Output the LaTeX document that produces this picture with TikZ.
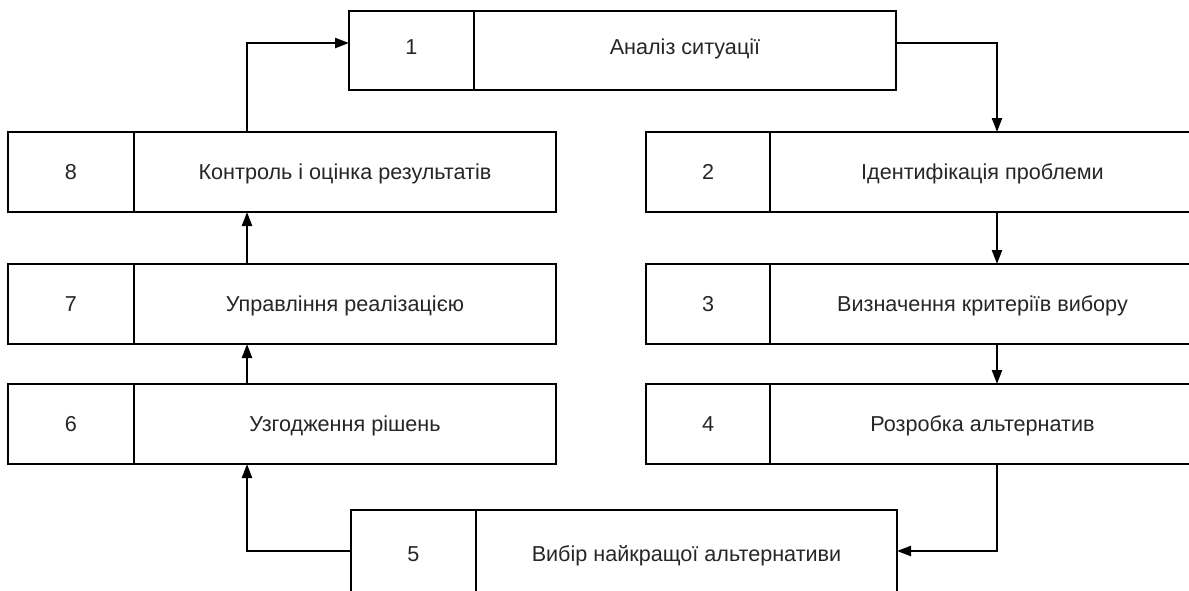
\documentclass[tikz,border=0pt]{standalone}
\usepackage{fontspec}
\setmainfont{Liberation Sans}
\usetikzlibrary{arrows.meta}
\begin{document}
\begin{tikzpicture}[x=1pt,y=-1pt,
  cell/.style={draw=black, line width=2.3pt, inner sep=0pt, outer sep=0pt,
    text=black!85, font=\fontsize{21.6}{26}\selectfont, text height=15.5pt, text depth=0pt},
  numcell/.style={cell, minimum width=125pt},
  txtcell/.style={cell, minimum width=422pt},
  rowh/.style={minimum height=80pt},
  link/.style={line width=2.3pt, line join=miter},
  arr/.style={link, -{Triangle[length=14pt,width=10pt]}}]
\clip (0,0) rectangle (1189,590);
\fill[white] (0,0) rectangle (1189,590);

% top box
\node[numcell, minimum height=79pt, text depth=7pt] (b1n) at (411.5,50.5) {1};
\node[txtcell, minimum height=79pt, text depth=7pt] (b1t) at (685,50.5) {Аналіз ситуації};

% right column
\node[numcell, rowh, minimum width=124pt] (b2n) at (708,172) {2};
\node[txtcell, rowh, minimum width=425pt] (b2t) at (982.5,172) {Ідентифікація проблеми};
\node[numcell, rowh, minimum width=124pt] (b3n) at (708,304) {3};
\node[txtcell, rowh, minimum width=425pt] (b3t) at (982.5,304) {Визначення критеріїв вибору};
\node[numcell, rowh, minimum width=124pt] (b4n) at (708,424) {4};
\node[txtcell, rowh, minimum width=425pt] (b4t) at (982.5,424) {Розробка альтернатив};

% bottom box
\node[numcell, minimum height=82pt, text height=21.5pt] (b5n) at (413.5,551) {5};
\node[txtcell, minimum height=82pt, minimum width=421pt, text height=21.5pt] (b5t) at (686.5,551) {Вибір найкращої альтернативи};

% left column
\node[numcell, rowh, minimum width=126pt] (b8n) at (71,172) {8};
\node[txtcell, rowh] (b8t) at (345,172) {Контроль і оцінка результатів};
\node[numcell, rowh, minimum width=126pt] (b7n) at (71,304) {7};
\node[txtcell, rowh] (b7t) at (345,304) {Управління реалізацією};
\node[numcell, rowh, minimum width=126pt] (b6n) at (71,424) {6};
\node[txtcell, rowh] (b6t) at (345,424) {Узгодження рішень};

% connector lanes
\coordinate (r) at (997,0);
\coordinate (l) at (247,0);
\coordinate (top) at (0,43);

\draw[arr] (b1t.east |- top) -- (r |- top) -- (r |- b2t.north);
\draw[arr] (r |- b2t.south) -- (r |- b3t.north);
\draw[arr] (r |- b3t.south) -- (r |- b4t.north);
\draw[arr] (r |- b4t.south) -- (r |- b5t.east) -- (b5t.east);
\draw[arr] (b5n.west) -- (l |- b5n.west) -- (l |- b6t.south);
\draw[arr] (l |- b6t.north) -- (l |- b7t.south);
\draw[arr] (l |- b7t.north) -- (l |- b8t.south);
\draw[arr] (l |- b8t.north) -- (l |- top) -- (b1n.west |- top);
\end{tikzpicture}
\end{document}
